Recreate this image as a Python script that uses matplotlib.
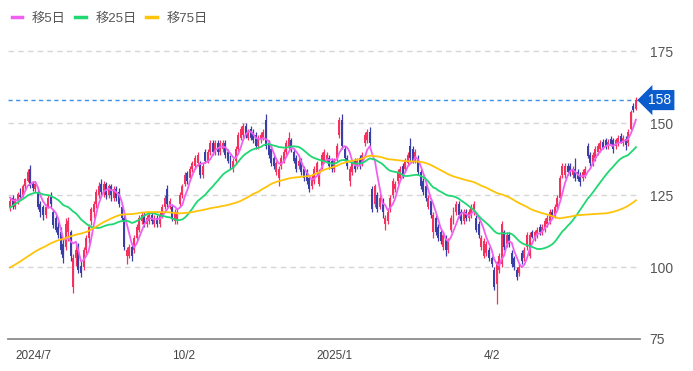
import numpy as np
import pandas as pd
import matplotlib
matplotlib.use("Agg")
import matplotlib.pyplot as plt
from matplotlib.lines import Line2D
from matplotlib.transforms import blended_transform_factory

plt.rcParams['font.family'] = ['Liberation Sans', 'Noto Sans CJK JP', 'DejaVu Sans']

# closes before the first visible candle (only used for the moving averages)
prior_closes = [84, 86, 85, 83, 84, 86, 88, 87, 85, 84, 83, 85, 87, 89, 88, 86, 85, 84, 86, 87,
                88, 89, 88, 86, 85, 84, 83, 85, 87, 88, 86, 85, 84, 85, 87, 88,
                90, 93, 95, 94, 97, 99, 98, 100, 102, 101, 103, 104, 102, 105,
                104, 108, 112, 110, 114, 116, 115, 118, 120,
                122, 124, 123, 126, 125, 127, 128, 126, 124, 125, 127, 126, 124, 125, 123]

opens = [121, 124, 121, 123, 125, 125, 128, 130, 134, 129, 127, 126, 122, 121, 118, 121, 124.5, 119, 117, 114,
         112, 108, 107, 112, 112, 93, 103, 107, 100.5, 100, 106, 110, 116, 119, 122, 125, 129, 126, 129, 125,
         128, 124, 127, 126, 121, 117, 104, 104, 107, 106, 110, 113, 116, 118, 115, 116, 118, 115, 117, 115,
         118, 121, 127, 121, 121, 116, 116.5, 122, 125, 129, 132.5, 131, 134, 135, 136, 136, 132, 140, 137, 140,
         143, 140, 143, 140, 141, 143, 140, 138, 134, 137, 141, 145, 146, 149, 145, 148, 147, 146, 142, 144,
         145, 151, 143, 141, 138, 133, 131, 135, 137, 140, 142, 144, 140, 138, 135, 137, 134, 133, 131, 128,
         130, 133, 129, 135, 137, 137, 138, 137, 134, 138, 146, 151, 141, 138, 130, 133, 137, 135, 138, 136,
         143, 144, 147, 127, 122, 125, 121, 123, 115, 116, 120, 125, 127, 130, 131, 135, 134, 136, 142, 141,
         137, 138, 133, 130, 128, 121, 123, 112, 117, 114, 112, 107, 110, 106, 113, 116, 119, 122, 119, 116,
         119, 117, 118, 119, 117, 115, 107, 104, 105, 106, 103, 99, 94, 99, 101, 112, 108, 111, 105, 103,
         99, 98, 105, 103, 107, 104, 112, 110, 111, 114, 112, 113, 115, 116, 119, 118, 121, 124, 132, 132,
         135, 135, 132, 134, 133, 132, 131, 132, 142, 139, 136, 138, 140, 141, 143.5, 144, 142, 144.5, 144, 142,
         143, 145.5, 143, 144.5, 143, 148, 156, 155]
highs = [124.5, 125, 124, 126, 127.5, 129, 131, 134, 135.5, 130, 130, 127, 123, 121.5, 122, 125, 126, 120, 118, 115.5,
         114, 110, 117, 117.5, 113, 104.5, 108, 108.5, 102, 107, 111, 115, 121, 123, 127, 129.5, 130.5, 130, 129.5, 129,
         129, 128, 128, 127.5, 122, 118, 107, 108, 108, 111, 115, 118, 119, 119, 118, 119, 119, 118, 118, 119,
         122, 125, 128.5, 124, 122, 120, 120, 126, 129, 133, 133.5, 135, 137, 139, 140, 137, 136, 141, 141, 144,
         144, 144, 144, 144, 144, 144, 141, 139, 138, 142, 147, 149, 150, 150, 148, 149, 148, 147, 146, 147,
         148, 153, 144, 142, 139, 137, 135, 139, 141, 144, 147, 145, 141, 139, 138, 138, 135, 134, 132, 132,
         135, 137, 134, 140, 141, 140, 139, 138, 138, 143, 152, 153, 142, 139, 135, 137, 138, 138, 139, 140,
         147, 148, 148.5, 128, 129, 126, 125, 124, 118, 120, 125, 131, 130, 134, 135, 136, 138, 140, 145, 142,
         141, 139, 134, 131, 129, 125, 124, 119, 118, 115, 113, 112, 111, 110, 118, 121, 123, 123, 120, 120,
         120, 120, 122, 123, 118, 116, 111, 110, 109, 107, 104, 100, 102, 105, 116, 113, 112, 112, 106, 104,
         100, 101, 106, 107, 112, 112, 113, 113, 114, 115, 115, 117, 118, 120, 120, 122, 125, 132, 136, 136,
         136, 136, 135, 138, 134, 133, 134, 135, 143, 140, 140, 142, 143, 144, 144.5, 145, 144.5, 145.5, 145, 145,
         146, 146.5, 146, 145.5, 148, 154.5, 157, 159]
lows = [119.5, 120, 120, 122, 124, 124.5, 127, 129.5, 127.5, 126.5, 126, 120, 117.5, 116.5, 117, 120.5, 121, 113.5, 112, 110,
        104.5, 101.5, 106, 109, 102, 91, 100.5, 98, 96.5, 99, 104.5, 108.5, 114.5, 117, 120.5, 124, 125, 124.5, 123.5, 124,
        123, 123, 123, 121, 116, 106, 101, 103, 102, 105, 109, 112, 115, 114, 114, 115, 115, 114, 114, 114,
        117, 120, 121, 120, 116, 115, 115, 121, 124, 128, 129, 130, 133, 134, 135, 131, 131, 136, 136, 139,
        139, 139, 139, 139, 140, 138, 136, 134, 133, 136, 140, 144, 145, 145, 144, 144, 143, 141, 141, 143,
        144, 141, 138, 135, 134, 132, 128, 134, 136, 139, 141, 140, 136, 133, 134, 132, 130, 129, 126, 127,
        129, 132, 128, 134, 136, 136, 134, 133, 133, 137, 145, 141, 137, 134, 128, 132, 133, 134, 134, 135,
        142, 143, 142, 119, 121, 119, 120, 117, 113, 115, 119, 124, 126, 129, 130, 131, 133, 135, 137, 136,
        136, 132, 127, 125, 123, 120, 117, 110, 111, 109, 108, 106, 104, 105, 112, 115, 118, 117, 115, 115,
        116, 116, 117, 118, 112, 110, 106, 103, 104, 102, 100, 92, 87, 98, 100, 106, 107, 107, 100, 99,
        95.5, 97, 101, 102, 106, 103, 110, 109, 110, 111, 111, 112, 114, 115, 117, 117, 120, 123, 131, 131,
        132, 131.5, 131, 130, 130, 128, 130, 131, 138, 135, 135, 137, 139, 140, 141, 141, 141, 142, 139.5, 141,
        142, 143, 142, 140.5, 142, 147.5, 154, 154.5]
closes = [123, 121, 123.5, 125.5, 124.5, 128, 130.5, 133, 128, 127.5, 129, 121, 119, 118, 121, 124, 122, 114.5, 113, 111,
          106, 103, 115, 116, 104, 103, 106, 99, 98, 106, 110, 114, 120, 122, 126, 128, 126, 129, 125, 128,
          125, 127, 124, 122, 117, 107, 106, 107, 104, 110, 114, 117, 118, 115, 117, 118, 116, 117, 115, 118,
          121, 124, 122, 123, 117, 119, 119, 125, 128, 132, 130, 134, 136, 138, 139, 132, 135, 137, 140, 143,
          140, 143, 140, 143, 143, 139, 137, 135, 137, 141, 146, 148, 149, 146, 147, 145, 144, 142, 145, 146,
          147, 142, 139, 136, 135, 136, 134, 138, 140, 143, 145, 141, 137, 134, 137, 133, 131, 130, 127, 131,
          134, 136, 133, 139, 140, 139, 135, 134, 137, 142, 151, 142, 138, 135, 134, 136, 134, 137, 135, 139,
          146, 147, 143, 120, 128, 120, 124, 119, 117, 119, 124, 130, 129, 133, 134, 132, 137, 139, 138, 137,
          140, 133, 128, 126, 124, 124, 118, 118, 112, 110, 109, 111, 106, 109, 117, 120, 122, 118, 116, 119,
          117, 119, 121, 122, 113, 111, 110, 109, 108, 103, 101, 93, 101, 104, 115, 107, 111, 108, 101, 100,
          96.5, 100, 102, 106, 111, 111, 110.5, 112, 113, 112, 114, 116, 117, 119, 117.5, 121, 124, 131, 135, 135,
          133, 132.5, 134, 131, 130.5, 129.5, 133, 134, 138.5, 136, 139, 141, 142, 143, 141.5, 142, 143.5, 142.5, 141, 144,
          145, 143.5, 145, 142.5, 147, 154, 154.5, 158]

ytick_vals = [75, 100, 125, 150, 175]
xtick_idx = [2, 64, 121, 187]
xtick_labels = ['2024/7', '10/2', '2025/1', '4/2']
ma_labels = ['移5日', '移25日', '移75日']
ma_windows = [5, 25, 75]
last_price = 158

UP, DOWN = '#f5325f', '#3a3fa8'
MA_COLORS = ['#f060f0', '#1fd872', '#ffc409']

o = np.array(opens, float)
h = np.array(highs, float)
l = np.array(lows, float)
c = np.array(closes, float)
idx = np.arange(len(c))
cols = np.where(c >= o, UP, DOWN)

fig = plt.figure(figsize=(6.93, 3.71), dpi=100)
ax = fig.add_axes([8 / 693, 32 / 371, 632 / 693, 308 / 371])

ax.vlines(idx, l, h, colors=cols, linewidth=0.9, zorder=2)
ax.bar(idx, np.maximum(np.abs(c - o), 0.4), bottom=np.minimum(o, c), width=0.78,
       color=cols, linewidth=0, zorder=2)

allc = pd.Series(prior_closes + closes, dtype=float)
n0 = len(prior_closes)
for w, col in zip(ma_windows, MA_COLORS):
    ma = allc.rolling(w).mean().iloc[n0:].to_numpy()
    ax.plot(idx, ma, color=col, lw=1.3, zorder=3)

ax.axhline(last_price, color='#3d8fe8', ls=(0, (3, 2.5)), lw=1, zorder=1)
tr = blended_transform_factory(ax.transAxes, ax.transData)
ax.text(1.013, last_price, str(last_price), transform=tr, ha='left', va='center',
        color='white', fontsize=10,
        bbox=dict(boxstyle='larrow,pad=0.22', fc='#0b5ccc', ec='none'))

ax.set_xlim(-0.8, 248.6)
ax.set_ylim(75, 182)
ax.set_yticks(ytick_vals)
ax.yaxis.tick_right()
ax.yaxis.grid(True, ls=(0, (4, 3)), color='#d6d6d6', lw=1)
ax.set_axisbelow(True)
ax.tick_params(axis='y', length=0, pad=7, labelsize=10, labelcolor='#555555')
ax.set_xticks(xtick_idx)
ax.set_xticklabels(xtick_labels, ha='left')
ax.tick_params(axis='x', length=0, pad=8, labelsize=8.5, labelcolor='#444444')
for s in ['top', 'left', 'right']:
    ax.spines[s].set_visible(False)
ax.spines['bottom'].set_color('#8c8c8c')
ax.spines['bottom'].set_linewidth(1.3)

handles = [Line2D([], [], color=col, lw=2.5) for col in MA_COLORS]
fig.legend(handles, ma_labels, loc='upper left', bbox_to_anchor=(0 / 693, 1 - 1 / 371),
           ncol=3, frameon=False, handlelength=0.8, handletextpad=0.7, columnspacing=0.75,
           fontsize=9.5, labelcolor='#555555')

fig.savefig('out.png', dpi=100)
